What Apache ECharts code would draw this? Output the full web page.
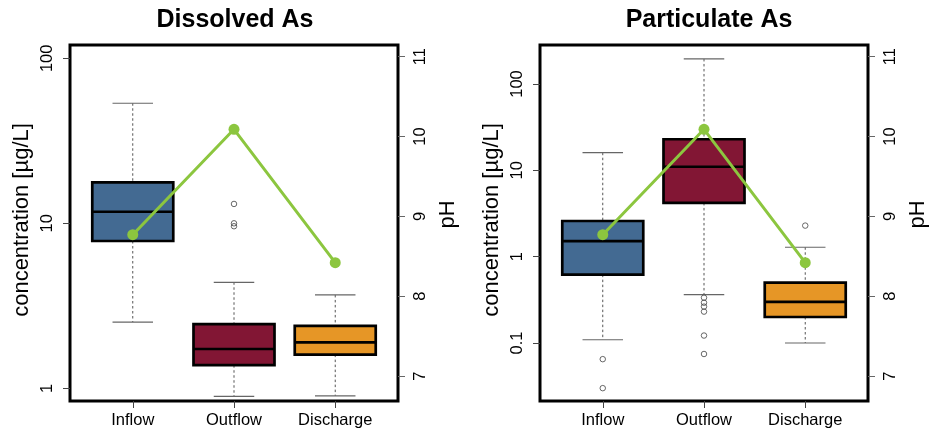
<!DOCTYPE html>
<html>
<head>
<meta charset="utf-8">
<script src="https://cdn.jsdelivr.net/npm/echarts@6/dist/echarts.min.js"></script>
<style>
html,body{margin:0;padding:0;background:#fff;}
#chart{width:934px;height:433px;}
</style>
</head>
<body>
<div id="chart"></div>
<script>
// ---- data ----
const categories = ['Inflow', 'Outflow', 'Discharge'];
const panelTitles = ['Dissolved As', 'Particulate As'];
// [lower whisker, Q1, median, Q3, upper whisker]  (µg/L)
const dissolvedStats = [
  [2.52, 7.81, 11.75, 17.7, 53.4],
  [0.894, 1.38, 1.73, 2.45, 4.39],
  [0.90, 1.60, 1.90, 2.39, 3.68]
];
const dissolvedOutliers = [[], [13.1, 10.0, 9.6], []];
const particulateStats = [
  [0.109, 0.619, 1.51, 2.59, 16.0],
  [0.363, 4.19, 11.0, 22.9, 195],
  [0.10, 0.20, 0.30, 0.50, 1.285]
];
const particulateOutliers = [[0.065, 0.030], [0.335, 0.293, 0.264, 0.231, 0.122, 0.0746], [2.29]];
const pHValues = [8.77, 10.09, 8.42];
const dissolvedTicks = [1, 10, 100];
const particulateTicks = [0.1, 1, 10, 100];
const pHTicks = [7, 8, 9, 10, 11];
const yTitle = 'concentration [µg/L]';
const pHTitle = 'pH';

// ---- styles ----
const FONT = '"Liberation Sans", Arial, Helvetica, sans-serif';
const boxColors = ['#436a92', '#821634', '#e69626'];
const green = '#8cc63f';
const panels = [
  {left: 70, stats: dissolvedStats, outliers: dissolvedOutliers, ticks: dissolvedTicks,
   ymin: Math.pow(10, -0.077), ymax: Math.pow(10, 2.0806), titleX: 235},
  {left: 540, stats: particulateStats, outliers: particulateOutliers, ticks: particulateTicks,
   ymin: Math.pow(10, -1.6718), ymax: Math.pow(10, 2.4518), titleX: 709}
];
const GRID_TOP = 45, GRID_W = 328, GRID_H = 356;
const pHMin = 7 - 25 / 80, pHMax = 11 + 11.7 / 80;

const grid = [], xAxis = [], yAxis = [], series = [], graphic = [];

panels.forEach((p, i) => {
  grid.push({left: p.left, top: GRID_TOP, width: GRID_W, height: GRID_H,
    show: true, borderColor: '#000', borderWidth: 3, backgroundColor: 'transparent', containLabel: false});
  xAxis.push({
    type: 'value', gridIndex: i, min: -0.62, max: 2.62, position: 'bottom',
    axisLine: {show: false, onZero: false}, splitLine: {show: false},
    axisTick: {show: true, length: 7, customValues: [0, 1, 2], lineStyle: {color: '#444', width: 1}},
    axisLabel: {customValues: [0, 1, 2], margin: 11, fontSize: 16.5, color: '#000', fontFamily: FONT,
      formatter: v => categories[Math.round(v)]}
  });
  // concentration axis (log)
  yAxis.push({
    type: 'log', gridIndex: i, min: p.ymin, max: p.ymax, position: 'left',
    axisLine: {show: false, onZero: false}, splitLine: {show: false},
    axisTick: {show: true, length: 7, customValues: p.ticks, lineStyle: {color: '#444', width: 1}},
    axisLabel: {customValues: p.ticks, rotate: 90, margin: 14, fontSize: 16.5, color: '#000', fontFamily: FONT,
      formatter: v => String(v)},
    name: yTitle, nameLocation: 'middle', nameGap: 37,
    nameTextStyle: {fontSize: 22, color: '#000', fontFamily: FONT, padding: [0, 0, 0, 6]}
  });
  // pH axis
  yAxis.push({
    type: 'value', gridIndex: i, min: pHMin, max: pHMax, position: 'right',
    axisLine: {show: false, onZero: false}, splitLine: {show: false},
    axisTick: {show: true, length: 7, customValues: pHTicks, lineStyle: {color: '#666', width: 1}},
    axisLabel: {customValues: pHTicks, rotate: 90, margin: 14, fontSize: 16.5, color: '#000', fontFamily: FONT},
    name: pHTitle, nameLocation: 'middle', nameGap: 39,
    nameTextStyle: {fontSize: 22, color: '#000', fontFamily: FONT, padding: [0, 0, 0, 17]}
  });
  const logIdx = i * 2, phIdx = i * 2 + 1;

  // boxes
  series.push({
    type: 'custom', xAxisIndex: i, yAxisIndex: logIdx, z: 3,
    data: p.stats.map((s, k) => [k].concat(s)),
    renderItem: (params, api) => {
      const x = api.value(0);
      const k = params.dataIndex;
      const lo = api.coord([x, api.value(1)]);
      const q1 = api.coord([x, api.value(2)]);
      const med = api.coord([x, api.value(3)]);
      const q3 = api.coord([x, api.value(4)]);
      const hi = api.coord([x, api.value(5)]);
      const xl = api.coord([x - 0.4, api.value(3)])[0];
      const xr = api.coord([x + 0.4, api.value(3)])[0];
      const cl = api.coord([x - 0.2, api.value(3)])[0];
      const cr = api.coord([x + 0.2, api.value(3)])[0];
      const cx = lo[0];
      const whisk = {stroke: '#555', lineWidth: 1, lineDash: [2.5, 2.5]};
      const cap = {stroke: '#666', lineWidth: 1.2};
      return {type: 'group', children: [
        {type: 'line', shape: {x1: cx, y1: hi[1], x2: cx, y2: q3[1]}, style: whisk},
        {type: 'line', shape: {x1: cx, y1: q1[1], x2: cx, y2: lo[1]}, style: whisk},
        {type: 'line', shape: {x1: cl, y1: hi[1], x2: cr, y2: hi[1]}, style: cap},
        {type: 'line', shape: {x1: cl, y1: lo[1], x2: cr, y2: lo[1]}, style: cap},
        {type: 'rect', shape: {x: xl, y: q3[1], width: xr - xl, height: q1[1] - q3[1]},
          style: {fill: boxColors[k], stroke: '#000', lineWidth: 2.7}},
        {type: 'line', shape: {x1: xl, y1: med[1], x2: xr, y2: med[1]}, style: {stroke: '#000', lineWidth: 2.7}}
      ]};
    }
  });
  // outliers
  const outData = [];
  p.outliers.forEach((arr, k) => arr.forEach(v => outData.push([k, v])));
  series.push({
    type: 'scatter', xAxisIndex: i, yAxisIndex: logIdx, clip: false, z: 4,
    symbol: 'circle', symbolSize: 5.5, data: outData,
    itemStyle: {color: 'rgba(255,255,255,0)', borderColor: '#444', borderWidth: 1}
  });
  // pH line
  series.push({
    type: 'line', xAxisIndex: i, yAxisIndex: phIdx, z: 5,
    data: pHValues.map((v, k) => [k, v]),
    symbol: 'circle', symbolSize: 11,
    lineStyle: {color: green, width: 3},
    itemStyle: {color: green, borderWidth: 0}
  });

  graphic.push({type: 'text', x: p.titleX, y: 20, z: 10,
    style: {text: panelTitles[i], fontSize: 25, fontWeight: 'bold', fontFamily: FONT,
      fill: '#000', align: 'center', verticalAlign: 'middle'}});
});

const chart = echarts.init(document.getElementById('chart'), null, {renderer: 'canvas'});
chart.setOption({
  animation: false,
  backgroundColor: '#fff',
  grid, xAxis, yAxis, series, graphic
});
</script>
</body>
</html>
